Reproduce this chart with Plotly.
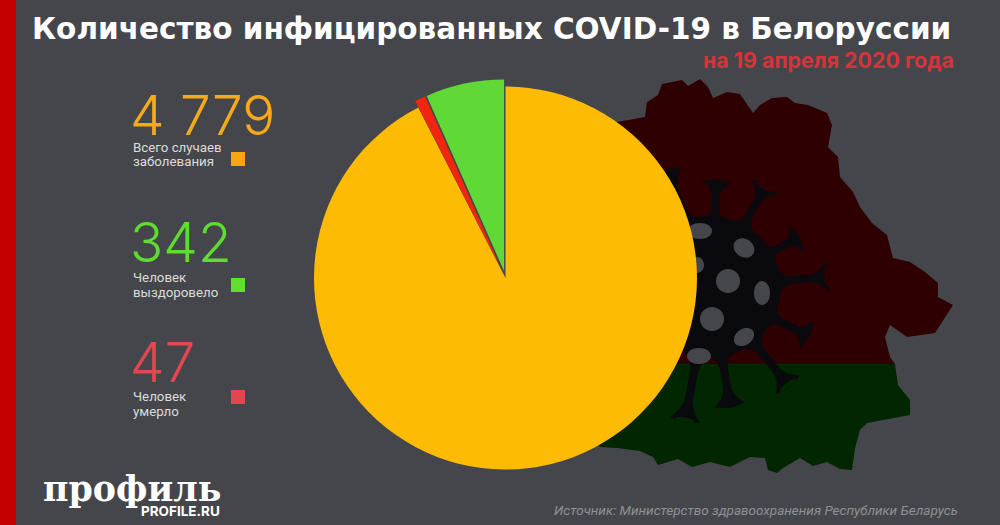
import math
import plotly.graph_objects as go

W = 1000
H = 525

# pie data
slice_names = ["Всего случаев заболевания", "Человек умерло", "Человек выздоровело"]
slice_values = [4779, 47, 342]
slice_colors = ["#fdbb03", "#f3250f", "#60d936"]
slice_pull = [0, 0.037, 0.037]

# side legend
big_numbers = ["4 779", "342", "47"]
big_colors = ["#f7a91c", "#5fdc30", "#e0474f"]
big_y = [115, 242, 362]
caption_lines = ["Всего случаев", "заболевания", "Человек", "выздоровело", "Человек", "умерло"]
caption_y = [147, 162, 277, 292, 396, 411]
square_y = [159, 285, 397]
square_colors = ["#fca50f", "#5fe02a", "#e2474d"]

# map outline, in reference pixels
map_red = [(617, 122), (645, 117), (647, 102), (658, 95), (662, 84), (682, 80), (688, 86), (700, 79),
           (708, 87), (713, 98), (727, 92), (740, 94), (753, 113), (760, 105), (772, 98), (787, 97),
           (795, 103), (808, 105), (827, 113), (832, 125), (828, 147), (838, 157), (840, 177),
           (853, 192), (860, 207), (872, 223), (887, 235), (893, 258), (910, 262), (925, 272),
           (938, 283), (938, 297), (953, 305), (935, 333), (907, 337), (890, 325), (885, 337),
           (890, 357), (895, 364), (620, 364), (600, 250)]
map_green = [(895, 364), (898, 385), (910, 400), (910, 415), (867, 423), (860, 430), (855, 448),
             (852, 470), (840, 469), (827, 462), (813, 466), (800, 458), (783, 468), (777, 473),
             (768, 470), (765, 458), (750, 457), (730, 467), (710, 462), (692, 467), (678, 459),
             (658, 465), (653, 457), (640, 451), (617, 448), (600, 447), (560, 400), (620, 364)]

# virus, in reference pixels
virus_center = (710, 287)
virus_radius = 71
spike_ends = [(668, 172), (717, 182), (765, 187), (797, 238), (827, 277), (807, 335), (788, 385),
              (730, 405), (685, 420)]
rim_spikes = [(765, 187, "#2f0002"), (827, 277, "#2f0002"), (788, 385, "#012600"), (685, 420, "#012600")]
spots = [(700, 231, 12, 8, 0), (744, 248, 11, 9, 35), (728, 281, 12, 12, 0), (762, 293, 8, 12, 0),
         (712, 319, 12, 12, 0), (744, 337, 11, 8, -35), (699, 356, 12, 8, 0), (697, 265, 7, 8, 0)]

BG = "#45464b"
DARK = "#09090e"


def px(x):
    return x / W


def py(y):
    return 1 - y / H


def poly_path(points):
    return "M " + " L ".join(f"{px(x):.4f},{py(y):.4f}" for x, y in points) + " Z"


def ellipse_points(cx, cy, a, b, deg):
    t = math.radians(deg)
    pts = []
    for i in range(32):
        u = 2 * math.pi * i / 32
        ex, ey = a * math.cos(u), b * math.sin(u)
        pts.append((cx + ex * math.cos(t) - ey * math.sin(t), cy + ex * math.sin(t) + ey * math.cos(t)))
    return pts


def spike_points(cx, cy, ex, ey, base):
    # stem narrows from the body and flares out into a cap at the tip
    d = math.hypot(ex - cx, ey - cy)
    ux, uy = (ex - cx) / d, (ey - cy) / d
    nx, ny = -uy, ux
    s0 = base - 6
    length = d - s0
    profile = [(0, 15), (0.18, 6), (0.3, 4), (0.72, 4), (0.85, 7), (0.95, 12), (1, 15)]
    left = [(cx + ux * (s0 + f * length) + nx * w, cy + uy * (s0 + f * length) + ny * w) for f, w in profile]
    right = [(cx + ux * (s0 + f * length) - nx * w, cy + uy * (s0 + f * length) - ny * w) for f, w in profile]
    return left + [(ex + ux * 3, ey + uy * 3)] + right[::-1]


def fill_shape(path, color):
    return dict(type="path", xref="paper", yref="paper", path=path, fillcolor=color,
                line=dict(width=0), layer="below")


def rect_shape(x0, y0, x1, y1, color):
    return dict(type="rect", xref="paper", yref="paper", x0=px(x0), x1=px(x1), y0=py(y0), y1=py(y1),
                fillcolor=color, line=dict(width=0), layer="below")


def label(text, x, y, size, color, family="Roboto", anchor="left", weight=400, style="normal"):
    return dict(text=text, x=px(x), y=py(y), xref="paper", yref="paper", xanchor=anchor, yanchor="middle",
                align=anchor, showarrow=False,
                font=dict(size=size, color=color, family=family, weight=weight, style=style))


shapes = [rect_shape(0, 0, 16, H, "#c40000")]
shapes.append(fill_shape(poly_path(map_red), "#2f0002"))
shapes.append(fill_shape(poly_path(map_green), "#012600"))

# virus body, spikes, caps
cx, cy = virus_center
shapes.append(fill_shape(poly_path(ellipse_points(cx, cy, virus_radius, virus_radius, 0)), DARK))
for ex, ey in spike_ends:
    shapes.append(fill_shape(poly_path(spike_points(cx, cy, ex, ey, virus_radius)), DARK))
for ex, ey, color in rim_spikes:
    deg = math.degrees(math.atan2(ey - cy, ex - cx)) + 90
    shapes.append(fill_shape(poly_path(ellipse_points(ex, ey, 10, 2.5, deg)), color))
for sx, sy, a, b, deg in spots:
    shapes.append(fill_shape(poly_path(ellipse_points(sx, sy, a, b, deg)), BG))

# legend squares
for y, color in zip(square_y, square_colors):
    shapes.append(rect_shape(231, y - 7, 245, y + 7, color))

annotations = [
    label("Количество инфицированных COVID-19 в Белоруссии", 30, 29, 29.5, "#ffffff", family="DejaVu Sans", weight=700),
    label("на 19 апреля 2020 года", 956, 60, 21.4, "#d5343a", family="Inter", anchor="right", weight=700),
    label("Источник: Министерство здравоохранения Республики Беларусь", 960, 510, 13.5, "#8f9095",
          anchor="right", style="italic"),
    label("профиль", 41, 488, 34.8, "#ffffff", family="DejaVu Serif", weight=700),
    label("PROFILE.RU", 222, 511, 13.5, "#ffffff", family="Inter", anchor="right", weight=700),
]
for text, y, color in zip(big_numbers, big_y, big_colors):
    annotations.append(label(text, 128, y, 55, color, family="Inter", weight=300))
for text, y in zip(caption_lines, caption_y):
    annotations.append(label(text, 131, y, 13.3, "#dcdcdc"))

# plotly shrinks the radius by the largest pull, so the domain is 2*R*(1+pull)
pie_cx, pie_cy, pie_r = 505.5, 278, 191.5
half = pie_r * (1 + max(slice_pull))
pie = go.Pie(
    labels=slice_names,
    values=slice_values,
    sort=False,
    direction="clockwise",
    rotation=0,
    pull=slice_pull,
    marker=dict(colors=slice_colors, line=dict(width=0)),
    textinfo="none",
    hoverinfo="label+value",
    showlegend=False,
    domain=dict(x=[px(pie_cx - half), px(pie_cx + half)], y=[py(pie_cy + half), py(pie_cy - half)]),
)

fig = go.Figure(data=[pie])
fig.update_layout(
    width=W,
    height=H,
    margin=dict(l=0, r=0, t=0, b=0),
    paper_bgcolor=BG,
    plot_bgcolor=BG,
    shapes=shapes,
    annotations=annotations,
)
# page body has a default margin that would push the figure off
fig.write_html("out.html", config=dict(displayModeBar=False),
               post_script="document.body.style.margin='0';document.body.style.background='#45464b';")
